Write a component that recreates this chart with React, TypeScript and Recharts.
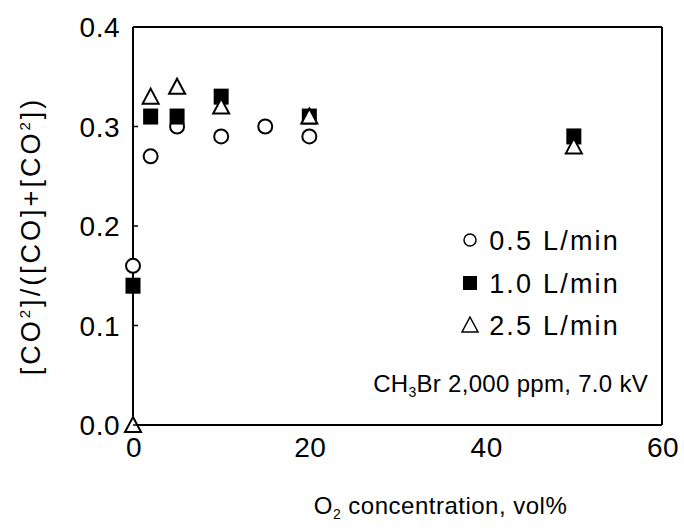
import { ScatterChart, Scatter, XAxis, YAxis, ReferenceLine, Label } from "recharts"

const O2_05 = [0, 2, 5, 10, 15, 20]
const RATIO_05 = [0.16, 0.27, 0.3, 0.29, 0.3, 0.29]

const O2_10 = [0, 2, 5, 10, 20, 50]
const RATIO_10 = [0.14, 0.31, 0.31, 0.33, 0.31, 0.29]

const O2_25 = [0, 2, 5, 10, 20, 50]
const RATIO_25 = [0.0, 0.33, 0.34, 0.32, 0.31, 0.28]

const X_TICKS = [0, 20, 40, 60]
const Y_TICKS = [0, 0.1, 0.2, 0.3, 0.4]

const LEGEND = ["0.5 L/min", "1.0 L/min", "2.5 L/min"]

const FONT = "'Liberation Sans', Arial, Helvetica, sans-serif"

const toPoints = (xs: number[], ys: number[]) => xs.map((x, i) => ({ x, y: ys[i] }))

const CircleMark = (props: any) => (
  <circle cx={props.cx} cy={props.cy} r={7} fill="#fff" stroke="#000" strokeWidth={2} />
)

const SquareMark = (props: any) => (
  <rect x={props.cx - 7.5} y={props.cy - 8} width={15} height={16} fill="#000" />
)

const TriangleMark = (props: any) => (
  <path
    d={`M${props.cx},${props.cy - 8} L${props.cx + 8},${props.cy + 7} L${props.cx - 8},${props.cy + 7} Z`}
    fill="#fff"
    stroke="#000"
    strokeWidth={2}
  />
)

const LeftTick = (props: any) => {
  const { x, y, payload } = props
  return (
    <g>
      <text x={x} y={y + 10} textAnchor="end" fontSize={28} letterSpacing={0.5} fontFamily={FONT} fill="#000">
        {payload.value.toFixed(1)}
      </text>
      <line x1={x + 13} x2={x + 18} y1={y} y2={y} stroke="#000" strokeWidth={1.5} />
    </g>
  )
}

const RightTick = (props: any) => {
  const { x, y } = props
  return <line x1={x - 5} x2={x} y1={y} y2={y} stroke="#000" strokeWidth={1.5} />
}

const BottomTick = (props: any) => {
  const { x, y, payload } = props
  return (
    <text x={x + 1} y={y + 30} textAnchor="middle" fontSize={28} letterSpacing={0.5} fontFamily={FONT} fill="#000">
      {payload.value}
    </text>
  )
}

const XTitle = (props: any) => {
  const vb = props.viewBox
  return (
    <text x={vb.x + vb.width / 2 + 43} y={vb.y + 89} textAnchor="middle" fontSize={24} letterSpacing={0.5} fontFamily={FONT} fill="#000">
      O<tspan fontSize={14} dy={5}>2</tspan>
      <tspan dy={-5}> concentration, vol%</tspan>
    </text>
  )
}

const YTitle = (props: any) => {
  const vb = props.viewBox
  const cx = 40
  const cy = vb.y + vb.height / 2 + 10
  return (
    <text
      x={cx}
      y={cy}
      transform={`rotate(-90 ${cx} ${cy})`}
      textAnchor="middle"
      fontSize={27}
      fontFamily={FONT}
      letterSpacing={3}
      fill="#000"
    >
      [CO<tspan fontSize={15} dy={-10}>2</tspan>
      <tspan dy={10}>]/([CO]+[CO</tspan>
      <tspan fontSize={15} dy={-10}>2</tspan>
      <tspan dy={10}>])</tspan>
    </text>
  )
}

export default function App() {
  return (
    <div style={{ position: "absolute", left: 0, top: 0, width: 684, height: 531, background: "#fff" }}>
      <ScatterChart width={684} height={531} margin={{ top: 27, right: 0, left: 0, bottom: 0 }}>
        <XAxis
          type="number"
          dataKey="x"
          domain={[0, 60]}
          ticks={X_TICKS}
          height={106}
          axisLine={{ stroke: "#000", strokeWidth: 2 }}
          tickLine={false}
          tickSize={0}
          tick={<BottomTick />}
          interval={0}
        >
          <Label content={<XTitle />} />
        </XAxis>
        <YAxis
          yAxisId="l"
          type="number"
          dataKey="y"
          domain={[0, 0.4]}
          ticks={Y_TICKS}
          width={133}
          axisLine={{ stroke: "#000", strokeWidth: 2 }}
          tickLine={false}
          tickSize={0}
          tickMargin={13}
          tick={<LeftTick />}
          interval={0}
        >
          <Label content={<YTitle />} />
        </YAxis>
        <YAxis
          yAxisId="r"
          orientation="right"
          type="number"
          dataKey="y"
          domain={[0, 0.4]}
          ticks={Y_TICKS}
          width={22}
          axisLine={{ stroke: "#000", strokeWidth: 2 }}
          tickLine={false}
          tickSize={0}
          tickMargin={0}
          tick={<RightTick />}
          interval={0}
        />
        <ReferenceLine yAxisId="l" y={0.4} stroke="#000" strokeWidth={2} />
        <Scatter yAxisId="l" name={LEGEND[0]} data={toPoints(O2_05, RATIO_05)} shape={<CircleMark />} isAnimationActive={false} />
        <Scatter yAxisId="l" name={LEGEND[1]} data={toPoints(O2_10, RATIO_10)} shape={<SquareMark />} isAnimationActive={false} />
        <Scatter yAxisId="l" name={LEGEND[2]} data={toPoints(O2_25, RATIO_25)} shape={<TriangleMark />} isAnimationActive={false} />
      </ScatterChart>
      <svg width={684} height={531} style={{ position: "absolute", left: 0, top: 0, pointerEvents: "none" }}>
        <g fontFamily={FONT} fontSize={27} letterSpacing={2.2} fill="#000">
          <circle cx={470} cy={240} r={6} fill="#fff" stroke="#000" strokeWidth={1.5} />
          <text x={620} y={250} textAnchor="end">{LEGEND[0]}</text>
          <rect x={463} y={276} width={14} height={14} fill="#000" />
          <text x={620} y={293} textAnchor="end">{LEGEND[1]}</text>
          <path d="M470,317 L478,332 L462,332 Z" fill="#fff" stroke="#000" strokeWidth={1.5} />
          <text x={620} y={335} textAnchor="end">{LEGEND[2]}</text>
          <text x={648} y={392} textAnchor="end" fontSize={24} letterSpacing={0.3}>
            CH<tspan fontSize={14} dy={5}>3</tspan>
            <tspan dy={-5}>Br 2,000 ppm, 7.0 kV</tspan>
          </text>
        </g>
      </svg>
    </div>
  )
}
